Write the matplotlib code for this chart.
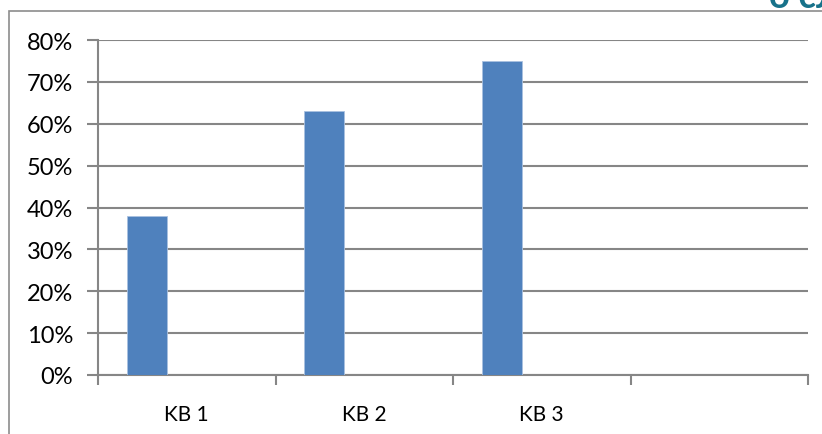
import numpy as np
from matplotlib import pyplot as plt
from matplotlib.patches import Rectangle

categories = ['KB 1', 'KB 2', 'KB 3', '']
values = [38, 63, 75, None]
yticks = [0, 10, 20, 30, 40, 50, 60, 70, 80]

bar_color = '#4F81BD'
grid_color = '#868686'

plt.rcParams['font.family'] = ['Lato', 'DejaVu Sans']

fig = plt.figure(figsize=(8.22, 4.35), dpi=100)
ax = fig.add_axes([98/822, 59/435, 710/822, 335/435])

# outer frame (only left and top edges show)
fig.patches.append(Rectangle((9/822, -0.1), 1.2, (435-12)/435 + 0.1, transform=fig.transFigure,
                             fill=False, edgecolor='#8c8c8c', linewidth=1.2))
fig.text(0.935, 1 - 8/435, 'о сл', color='#17728A', fontsize=26, fontweight='bold',
         va='baseline', ha='left')

x = np.arange(len(categories))
width = 0.225
for i, v in enumerate(values):
    if v is not None:
        ax.bar(x[i] - width, v, width, color=bar_color, edgecolor='#a9c1e0', linewidth=0.6, zorder=3)

ax.set_xlim(-0.5, len(categories) - 0.5)
ax.set_ylim(0, 80)
ax.set_yticks(yticks)
ax.set_yticklabels([str(t) + '%' for t in yticks])
ax.yaxis.grid(True, color=grid_color, linewidth=1.5, zorder=0)
ax.set_axisbelow(True)

ax.set_xticks(x)
ax.set_xticklabels(categories)
ax.set_xticks(np.arange(len(categories) + 1) - 0.5, minor=True)
ax.tick_params(axis='x', which='major', length=0, pad=21, labelsize=15)
ax.tick_params(axis='x', which='minor', length=7, width=1.5, color=grid_color, direction='out')
ax.tick_params(axis='y', length=8, width=1.5, color=grid_color, pad=10, labelsize=17)

for side in ['top', 'right']:
    ax.spines[side].set_visible(False)
for side in ['left', 'bottom']:
    ax.spines[side].set_color(grid_color)
    ax.spines[side].set_linewidth(1.5)

plt.savefig('out.png', dpi=100)
